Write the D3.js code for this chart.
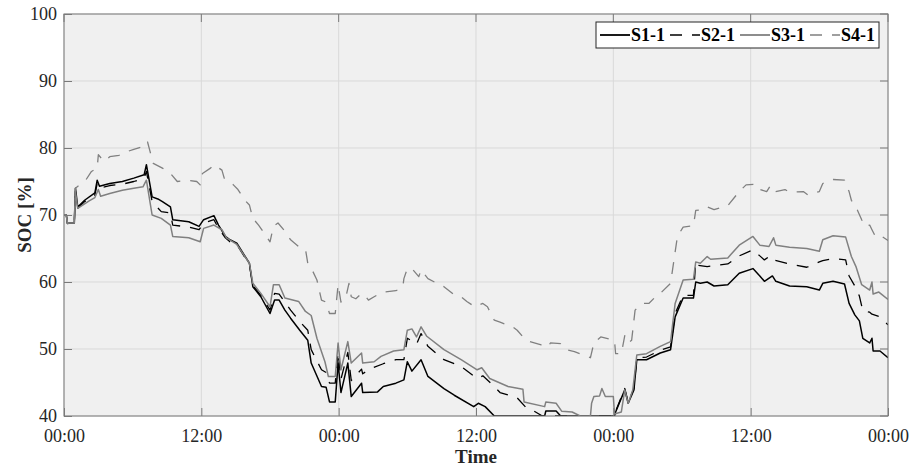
<!DOCTYPE html>
<html>
<head>
<meta charset="utf-8">
<script src="https://cdn.jsdelivr.net/npm/d3@7"></script>
<style>
  body { margin: 0; background: #ffffff; }
  svg { display: block; font-family: 'Liberation Serif', 'Times New Roman', serif; }
</style>
</head>
<body>
<div id="chart"></div>
<script>
// hours from start, SOC in %
const s1 = [[0,70],[0.2,70],[0.3,68.8],[0.9,68.8],[1.0,74],[1.2,71.2],[1.8,72.2],[2.7,73.3],[2.9,75.2],[3.1,74.3],[4.0,74.7],[5.1,75.0],[6.1,75.5],[7.0,76],[7.2,77.5],[7.7,72.7],[8.2,72.4],[8.6,72],[9.3,71.2],[9.5,69.3],[10.9,69.0],[11.8,68.3],[12.2,69.3],[13.1,69.9],[13.5,68.5],[14.1,66.8],[14.5,66.3],[15.1,65.8],[16.2,62.8],[16.5,59.3],[17.2,57.8],[18.0,55.3],[18.4,57.3],[18.8,57.3],[19.3,55.8],[19.8,54.6],[20.6,52.8],[21.3,51.3],[21.6,47.9],[22.5,44.4],[22.9,44.3],[23.2,42.1],[23.7,42.1],[23.95,47.9],[24.2,43.5],[24.8,47.9],[25.1,42.9],[26.0,44.9],[26.1,43.5],[27.4,43.6],[27.9,44.4],[29.0,44.9],[29.7,45.4],[30.0,48.1],[30.4,46.7],[31.2,48.4],[31.8,45.9],[33.2,44.1],[34.1,43.1],[35.8,41.4],[36.2,41.9],[36.8,41.4],[37.6,40],[42.0,40],[42.1,40.75],[43.0,40.75],[43.4,40],[48.1,40],[48.2,40.6],[49.0,43.9],[49.3,41.9],[49.8,43.9],[50.05,48.4],[50.9,48.4],[52.1,49.4],[53.0,49.9],[53.4,54.8],[54.1,57.6],[55.0,57.6],[55.2,60.0],[55.6,59.8],[56.2,60.0],[56.8,59.4],[58.0,59.6],[59.0,61.3],[60.2,62.0],[60.8,60.9],[61.2,60.1],[61.9,60.9],[62.2,60.1],[63.4,59.4],[64.9,59.3],[66.0,58.8],[66.3,59.8],[67.2,60.1],[68.2,59.7],[68.6,56.8],[69.1,55.1],[69.5,54.2],[69.8,51.6],[70.4,50.9],[70.6,51.6],[70.7,49.7],[71.3,49.7],[72,48.7]];

const s2 = [[0,70],[0.2,70],[0.3,68.7],[0.9,68.7],[1.0,73.5],[1.2,71.0],[1.8,72.0],[2.7,73.0],[2.9,74.7],[3.1,74.0],[4.0,74.4],[5.1,74.6],[6.1,75.0],[7.0,75.5],[7.2,76.5],[7.7,72.0],[8.5,70.5],[9.3,70.3],[9.5,68.5],[10.9,68.2],[11.8,67.8],[12.2,68.8],[13.1,69.3],[13.5,68.0],[14.1,66.6],[14.5,66.0],[15.1,65.6],[16.2,62.6],[16.5,59.5],[17.2,58.0],[18.0,55.8],[18.4,58.3],[18.8,58.2],[19.3,57.0],[19.8,55.8],[20.6,54.1],[21.3,52.8],[21.6,49.9],[22.5,46.9],[22.9,46.5],[23.2,44.9],[23.7,44.9],[23.95,49.5],[24.2,45.5],[24.8,49.5],[25.1,45.3],[26.0,47.0],[26.1,46.3],[26.8,47.1],[27.9,47.8],[29.0,48.4],[29.7,48.4],[30.0,51.6],[30.4,51.2],[30.8,50.7],[31.2,52.3],[31.8,50.4],[33.2,48.4],[34.7,47.4],[36.1,45.6],[36.6,46.0],[37.3,44.9],[38.1,43.5],[39.6,42.7],[40.4,41.2],[41.0,40.8],[41.8,40],[48.1,40],[48.2,40.7],[49.0,44.1],[49.3,42.1],[49.8,44.1],[50.05,48.7],[50.9,48.8],[52.1,49.8],[53.0,50.3],[53.4,55.3],[54.1,58.0],[55.0,58.0],[55.2,63.0],[55.4,62.5],[56.2,62.3],[57.0,62.5],[58.0,62.7],[59.0,63.9],[60.2,64.8],[60.8,63.9],[61.2,63.3],[61.7,63.9],[62.0,63.3],[63.4,62.7],[64.9,62.2],[66.0,63.0],[66.3,63.2],[67.2,63.5],[68.3,63.3],[68.6,60.9],[69.1,59.4],[69.5,57.9],[69.8,55.7],[70.4,55.5],[70.6,55.2],[71.3,54.8],[72,53.6]];

const s3 = [[0,70],[0.2,70],[0.3,68.8],[0.9,68.8],[1.0,73.5],[1.2,71.0],[2.2,72.1],[2.7,72.6],[3.0,73.8],[3.2,72.8],[4.0,73.2],[5.1,73.7],[6.1,74.0],[6.9,74.2],[7.2,75.2],[7.7,70.0],[8.5,69.5],[9.3,68.5],[9.5,66.8],[10.9,66.6],[11.9,66.0],[12.2,68.0],[13.1,68.5],[13.8,67.8],[14.2,66.6],[15.1,65.6],[16.2,62.8],[16.5,59.8],[17.2,58.3],[18.0,56.3],[18.3,59.6],[18.8,59.6],[19.3,57.6],[20.5,57.1],[21.1,55.6],[21.6,55.0],[22.1,51.6],[22.8,48.1],[23.1,45.9],[23.7,45.9],[23.95,50.9],[24.2,46.9],[24.8,51.1],[25.1,47.9],[26.0,49.4],[26.1,47.9],[27.1,48.1],[27.7,48.9],[28.8,49.7],[29.7,49.9],[30.0,52.8],[30.4,53.0],[30.8,51.8],[31.2,53.3],[31.7,51.9],[33.2,49.9],[34.7,48.4],[36.1,46.9],[36.5,47.2],[37.2,45.6],[38.8,44.4],[40.1,44.0],[40.2,42.1],[42.0,41.4],[42.1,42.1],[43.0,41.9],[43.5,40.7],[44.4,40.6],[45.1,40],[46.0,40],[46.1,41.9],[46.3,42.9],[46.8,43.0],[47.0,44.1],[47.3,42.9],[48.0,42.9],[48.1,40.3],[48.7,40.6],[49.0,43.9],[49.3,41.9],[49.7,43.9],[50.05,49.1],[50.9,49.3],[52.1,50.4],[53.0,51.1],[53.4,56.8],[54.1,60.3],[55.0,60.4],[55.2,63.0],[55.6,62.8],[56.2,63.8],[56.5,63.4],[58.0,63.6],[59.0,65.5],[60.2,66.8],[60.8,65.5],[61.6,65.3],[62.0,66.6],[62.2,65.5],[63.4,65.2],[64.9,65.0],[66.0,64.6],[66.3,66.3],[67.2,66.9],[68.3,66.7],[68.8,63.8],[69.2,62.3],[69.7,59.6],[70.4,58.8],[70.6,60.0],[70.7,58.2],[71.2,58.5],[72,57.4]];

const s4 = [[0,70],[0.2,70],[0.3,68.8],[0.9,68.8],[1.0,74.0],[1.9,75.2],[2.4,76.5],[2.9,77.0],[3.0,79.0],[3.5,78.0],[4.0,78.7],[4.8,78.9],[5.4,79.4],[6.1,79.8],[6.9,80.2],[7.1,80.9],[7.3,80.9],[7.5,79.6],[7.8,77.7],[8.6,77.0],[9.3,76.2],[9.9,75.0],[10.8,75.2],[11.6,75.0],[11.9,74.5],[12.1,76.2],[12.8,77.0],[13.1,77.5],[13.8,76.7],[14.0,75.5],[14.8,74.5],[15.2,73.8],[15.8,72.2],[16.2,71.5],[16.5,69.5],[17.0,68.5],[17.5,67.3],[18.0,66.0],[18.3,68.3],[18.7,68.8],[19.3,67.6],[19.8,66.3],[20.5,65.3],[21.1,64.9],[21.3,62.8],[21.6,62.1],[22.1,60.3],[22.5,57.3],[22.9,57.0],[23.2,55.3],[23.7,55.3],[23.95,59.6],[24.2,57.0],[24.6,57.5],[24.9,59.8],[25.1,57.8],[25.5,57.5],[26.0,58.3],[26.3,58.0],[26.6,57.3],[27.1,57.8],[27.6,58.3],[28.0,58.5],[29.0,58.7],[29.6,59.2],[29.7,60.5],[30.0,62.0],[30.4,62.0],[31.0,60.8],[31.2,61.8],[31.8,60.5],[32.6,59.8],[33.2,59.3],[34.1,58.1],[34.7,57.8],[35.2,57.1],[35.9,56.3],[36.6,56.8],[37.0,56.3],[37.6,54.3],[38.1,54.0],[39.2,53.3],[39.6,52.8],[40.2,51.6],[40.5,51.2],[41.7,50.6],[42.3,50.3],[42.5,50.9],[43.4,50.8],[43.9,49.9],[44.6,49.6],[45.2,49.2],[46.0,48.7],[46.3,50.9],[46.9,51.8],[48.1,51.3],[48.2,49.3],[48.7,49.3],[49.0,52.0],[49.3,50.9],[49.6,51.3],[49.9,55.8],[50.5,56.8],[51.1,56.8],[51.8,58.0],[52.1,58.3],[53.0,59.8],[53.6,66.8],[54.1,68.2],[55.0,68.4],[55.2,70.7],[55.9,70.8],[56.2,71.2],[56.8,70.8],[58.0,71.4],[59.0,73.5],[59.6,74.5],[60.5,74.6],[60.8,73.8],[61.4,73.5],[61.7,74.3],[62.0,73.4],[63.0,73.8],[63.4,73.4],[64.6,73.5],[65.0,73.0],[66.0,73.5],[66.3,74.7],[67.2,75.3],[68.2,75.2],[68.6,73.5],[68.8,72.2],[69.2,71.2],[69.7,69.3],[70.0,68.3],[70.4,68.5],[70.6,67.8],[70.9,66.8],[71.3,67.0],[72,66.2]];

const seriesNames = ['S1-1', 'S2-1', 'S3-1', 'S4-1'];
const yTicks = [40, 50, 60, 70, 80, 90, 100];
const xTickHours = [0, 12, 24, 36, 48, 60, 72];

const width = 914;
const height = 469;
const margin = { top: 14, right: 26, bottom: 53, left: 64 };
const innerW = width - margin.left - margin.right;
const innerH = height - margin.top - margin.bottom;

const start = Date.UTC(2020, 0, 1);
const toDate = h => new Date(start + h * 3600 * 1000);

const styles = [
  { color: '#000000', dash: null, w: 1.5 },
  { color: '#000000', dash: '12,10', w: 1.3 },
  { color: '#808080', dash: null, w: 1.5 },
  { color: '#808080', dash: '12,10', w: 1.3 }
];

const svg = d3.select('#chart')
  .append('svg')
  .attr('width', width)
  .attr('height', height);

const x = d3.scaleUtc()
  .domain([toDate(0), toDate(72)])
  .range([0, innerW]);
const y = d3.scaleLinear()
  .domain([40, 100])
  .range([innerH, 0]);

const g = svg.append('g')
  .attr('transform', `translate(${margin.left},${margin.top})`);

g.append('rect')
  .attr('width', innerW)
  .attr('height', innerH)
  .attr('fill', '#f0f0f0');

// grid
g.append('g')
  .selectAll('line')
  .data(yTicks)
  .join('line')
  .attr('x1', 0).attr('x2', innerW)
  .attr('y1', d => y(d)).attr('y2', d => y(d))
  .attr('stroke', '#d9d9d9')
  .attr('stroke-width', 1);
g.append('g')
  .selectAll('line')
  .data(xTickHours)
  .join('line')
  .attr('x1', d => x(toDate(d))).attr('x2', d => x(toDate(d)))
  .attr('y1', 0).attr('y2', innerH)
  .attr('stroke', '#d9d9d9')
  .attr('stroke-width', 1);

g.append('clipPath')
  .attr('id', 'plot-clip')
  .append('rect')
  .attr('width', innerW)
  .attr('height', innerH);

const line = d3.line()
  .x(d => x(toDate(d[0])))
  .y(d => y(d[1]));

const lines = g.append('g').attr('clip-path', 'url(#plot-clip)');
[s1, s2, s3, s4].forEach((data, i) => {
  lines.append('path')
    .datum(data)
    .attr('d', line)
    .attr('fill', 'none')
    .attr('stroke', styles[i].color)
    .attr('stroke-width', styles[i].w)
    .attr('stroke-dasharray', styles[i].dash)
    .attr('stroke-linejoin', 'round');
});

// axes, MATLAB style: ticks inside, box around
const tickLen = 8;
const xAxis = d3.axisBottom(x)
  .tickValues(xTickHours.map(toDate))
  .tickFormat(d3.utcFormat('%H:%M'))
  .tickSizeInner(-tickLen)
  .tickSizeOuter(0)
  .tickPadding(14);
const yAxis = d3.axisLeft(y)
  .tickValues(yTicks)
  .tickSizeInner(-tickLen)
  .tickSizeOuter(0)
  .tickPadding(7);

const axisColor = '#7a7a7a';
const gx = g.append('g')
  .attr('transform', `translate(0,${innerH})`)
  .call(xAxis);
const gy = g.append('g').call(yAxis);
[gx, gy].forEach(a => {
  a.select('.domain').remove();
  a.selectAll('.tick line').attr('stroke', axisColor);
  a.selectAll('.tick text')
    .attr('fill', '#262626')
    .attr('font-size', 18)
    .attr('font-family', "'Liberation Serif', 'Times New Roman', serif");
});
gx.selectAll('.tick text').attr('dy', '0.66em');

// top and right ticks
g.append('g')
  .selectAll('line')
  .data(xTickHours)
  .join('line')
  .attr('x1', d => x(toDate(d))).attr('x2', d => x(toDate(d)))
  .attr('y1', 0).attr('y2', tickLen)
  .attr('stroke', axisColor);
g.append('g')
  .selectAll('line')
  .data(yTicks)
  .join('line')
  .attr('x1', innerW - tickLen).attr('x2', innerW)
  .attr('y1', d => y(d)).attr('y2', d => y(d))
  .attr('stroke', axisColor);

g.append('rect')
  .attr('width', innerW)
  .attr('height', innerH)
  .attr('fill', 'none')
  .attr('stroke', axisColor)
  .attr('stroke-width', 1);

// axis titles
svg.append('text')
  .attr('x', margin.left + innerW / 2)
  .attr('y', 463)
  .attr('text-anchor', 'middle')
  .attr('font-size', 19)
  .attr('font-weight', 700)
  .attr('fill', '#262626')
  .text('Time');
svg.append('text')
  .attr('transform', `translate(31,${margin.top + innerH / 2}) rotate(-90)`)
  .attr('text-anchor', 'middle')
  .attr('font-size', 19)
  .attr('font-weight', 700)
  .attr('fill', '#262626')
  .text('SOC [%]');

// legend
const legend = svg.append('g')
  .attr('class', 'legend-container')
  .attr('transform', 'translate(596,22)');
legend.append('rect')
  .attr('width', 283)
  .attr('height', 26)
  .attr('fill', '#ffffff')
  .attr('stroke', '#262626')
  .attr('stroke-width', 1);
const items = legend.selectAll('.item')
  .data(seriesNames)
  .join('g')
  .attr('class', 'item')
  .attr('transform', (d, i) => `translate(${4 + i * 70},0)`);
items.append('line')
  .attr('x1', 0).attr('x2', 30)
  .attr('y1', 13).attr('y2', 13)
  .attr('stroke', (d, i) => styles[i].color)
  .attr('stroke-width', (d, i) => styles[i].w + 0.3)
  .attr('stroke-dasharray', (d, i) => styles[i].dash);
items.append('text')
  .attr('x', 31)
  .attr('y', 19)
  .attr('font-size', 18)
  .attr('font-weight', 700)
  .attr('fill', '#000000')
  .text(d => d);
</script>
</body>
</html>
